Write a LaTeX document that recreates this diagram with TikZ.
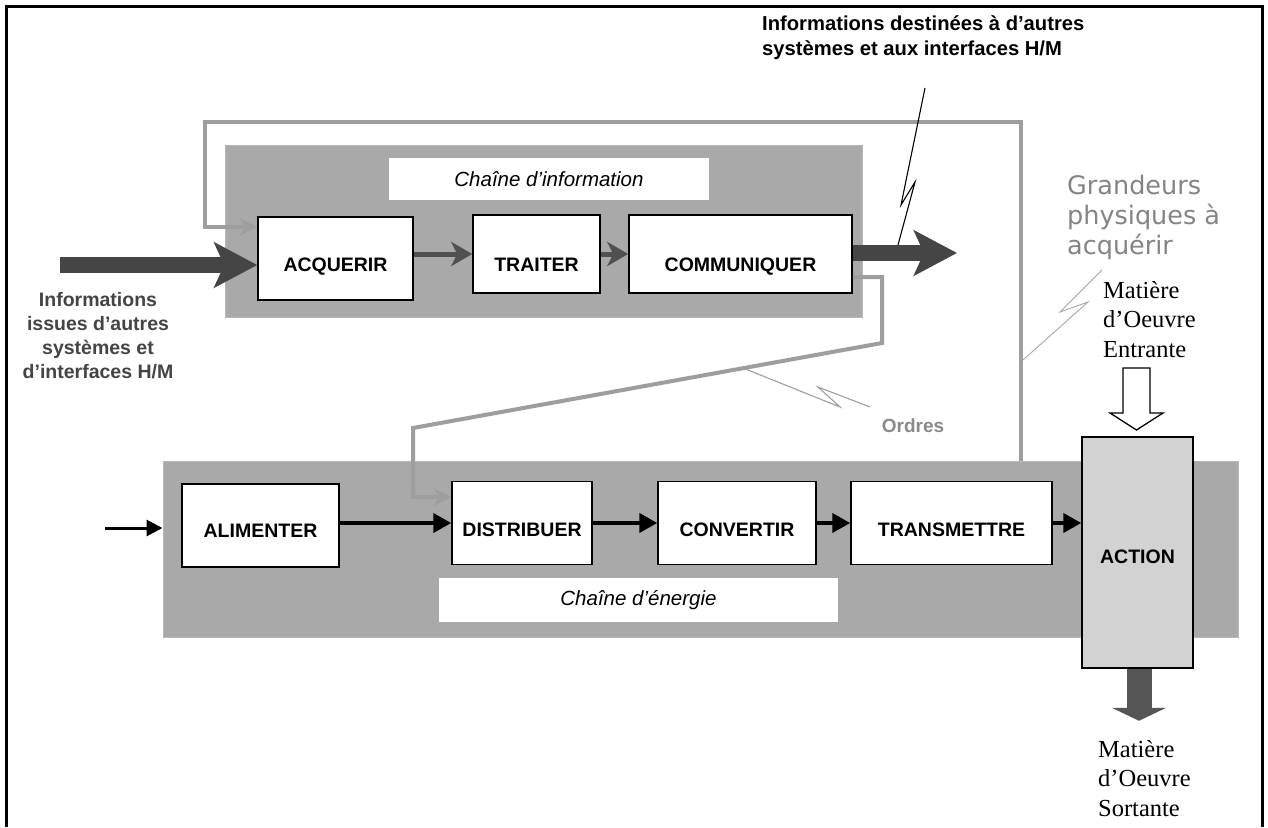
\documentclass[tikz,border=0pt]{standalone}
\usepackage{fontspec}
\setmainfont{Liberation Sans}
\newfontfamily\serifm{Liberation Serif}
\newfontfamily\dvs{DejaVu Sans}
\usetikzlibrary{arrows.meta}
\definecolor{panelgray}{HTML}{A9A9A9}
\definecolor{panelborder}{HTML}{B8B8B8}
\definecolor{arrowgray}{HTML}{505050}
\definecolor{biggray}{HTML}{454545}
\definecolor{linegray}{HTML}{9E9E9E}
\definecolor{tipgray}{HTML}{A8A8A8}
\definecolor{textgray}{HTML}{8A8A8A}
\definecolor{grgray}{HTML}{848484}
\definecolor{leftgray}{HTML}{444444}
\definecolor{actiongray}{HTML}{D2D2D2}
\definecolor{outgray}{HTML}{555555}
\newcommand\boxfont{\fontsize{19.5}{23}\selectfont\bfseries}
\newcommand\titlefont{\fontsize{20.5}{24}\selectfont\itshape}
\begin{document}
\begin{tikzpicture}[x=1pt,y=-1pt,
  panel/.style={fill=panelgray, draw=panelborder, line width=1pt, inner sep=0pt},
  blk/.style={draw=black, line width=1.5pt, fill=white, inner sep=0pt, font=\boxfont, text depth=0pt},
  titlebox/.style={fill=white, inner sep=0pt, font=\titlefont},
  darrow/.style={draw=arrowgray, line width=5pt, -{Stealth[length=21pt,width=24pt,inset=6pt]}, color=arrowgray},
  earrow/.style={draw=black, line width=4pt, -{Triangle[length=18pt,width=19pt]}},
  bigarrow/.style={draw=biggray, line width=16pt, -{Stealth[length=43pt,width=45pt,inset=10pt]}, color=biggray},
  gline/.style={draw=linegray, line width=4pt, line join=miter, -{Stealth[length=18pt,width=18pt,inset=6pt]}},
  bolt/.style={line width=1.1pt}
]
\useasboundingbox (0,0) rectangle (1268,827);
\fill[white] (0,0) rectangle (1268,827);
% frame
\draw[line width=3pt] (6,827) -- (6,6) -- (1262,6) -- (1262,827);

% panels
\node[panel, minimum width=1075pt, minimum height=176pt] (ene) at (700.5,549) {};
\node[panel, minimum width=637pt, minimum height=172pt] (inf) at (543.5,231) {};
\node[titlebox, minimum width=320pt, minimum height=42pt] (tinf) at (549,179) {Chaîne d’information};
\node[titlebox, minimum width=399pt, minimum height=44pt] (tene) at (638.5,600) {Chaîne d’énergie};

% blocks
\node[blk, text height=26pt, minimum width=155pt, minimum height=83pt] (acq) at (335.5,258.5) {ACQUERIR};
\node[blk, text height=34pt, minimum width=127pt, minimum height=78pt] (tra) at (536.5,254) {TRAITER};
\node[blk, text height=34pt, minimum width=223pt, minimum height=78pt] (com) at (740.5,254) {COMMUNIQUER};
\node[blk, text height=24pt, minimum width=157pt, minimum height=83pt] (ali) at (260.5,525.5) {ALIMENTER};
\node[blk, text height=27pt, minimum width=140pt, minimum height=83pt] (dis) at (522,523) {DISTRIBUER};
\node[blk, text height=26pt, minimum width=158pt, minimum height=83pt] (con) at (737,523) {CONVERTIR};
\node[blk, text height=26pt, minimum width=201pt, minimum height=83pt] (trm) at (951.5,523) {TRANSMETTRE};
\node[blk, text height=21pt, fill=actiongray, minimum width=111pt, minimum height=231pt] (act) at (1137.5,552.5) {ACTION};

% info chain arrows
\draw[darrow] (acq.east |- tra.west) -- (tra.west);
\draw[darrow] (tra.east) -- (com.west);

% energy chain arrows
\draw[earrow] (ali.east |- dis.west) -- (dis.west);
\draw[earrow] (dis.east) -- (con.west);
\draw[earrow] (con.east) -- (trm.west);
\draw[earrow] (trm.east) -- (trm.east -| act.west);
\coordinate (eS) at (105,528);
\draw[draw=black, line width=3pt, -{Triangle[length=16pt,width=16pt]}] (eS) -- (ene.west |- eS);

% big arrows
\coordinate (inS) at (60,265);
\draw[bigarrow] (inS) -- (acq.west |- inS);
\coordinate (outT) at (957,253);
\draw[bigarrow] (com.east |- outT) -- (outT);

% feedback (grandeurs physiques)
\coordinate (fbA) at (1021,122);
\coordinate (fbB) at (205,122);
\coordinate (fbC) at (0,227);
\draw[gline] (ene.north -| fbA) -- (fbA) -- (fbB) |- (acq.west |- fbC);

% ordres
\coordinate (ordA) at (882,277);
\coordinate (ordB) at (882,343);
\coordinate (ordC) at (413,428);
\coordinate (ordD) at (0,497);
\draw[gline] (com.east |- ordA) -- (ordA) -- (ordB) -- (ordC) |- (dis.west |- ordD);

% lightning bolts
\coordinate (b1a) at (925,88);
\coordinate (b1b) at (901,205);
\coordinate (b1c) at (915,182);
\coordinate (b1d) at (898,245);
\draw[bolt, draw=black] (b1a) -- (b1b) -- (b1c) -- (b1d);
\coordinate (b2a) at (743,368);
\coordinate (b2b) at (840,407);
\coordinate (b2c) at (818,387);
\coordinate (b2d) at (870,407);
\draw[bolt, draw=linegray] (b2a) -- (b2b) -- (b2c) -- (b2d);
\coordinate (b3a) at (1102,270);
\coordinate (b3b) at (1060,312);
\coordinate (b3c) at (1088,302);
\coordinate (b3d) at (1023,360);
\draw[bolt, draw=tipgray, line width=0.9pt] (b3a) -- (b3b) -- (b3c) -- (b3d);

% matiere d'oeuvre arrows
\draw[fill=white, line width=1.3pt, line join=miter] (1123,368) -- (1150,368) -- (1150,413) -- (1163,413) -- (1136.5,430) -- (1110,413) -- (1123,413) -- cycle;
\draw[draw=outgray, line width=25pt, -{Triangle[length=13pt,width=54pt]}, color=outgray] ([xshift=1.5pt]act.south) -- ++(0,52);

% texts
\node[anchor=north west, inner sep=0pt, align=left, font=\fontsize{20.2}{25}\selectfont\bfseries] (tout) at (762,15) {Informations destinées à d’autres\\systèmes et aux interfaces H/M};
\node[inner sep=0pt, align=center, text=leftgray, font=\fontsize{19.5}{24}\selectfont\bfseries] (tin) at (98,336) {Informations\\issues d’autres\\systèmes et\\d’interfaces H/M};
\node[anchor=north west, inner sep=0pt, align=left, text=grgray, font=\dvs\fontsize{25.5}{30}\selectfont] (tgr) at (1067,175) {Grandeurs\\physiques à\\acquérir};
\node[anchor=north west, inner sep=0pt, align=left, font=\serifm\fontsize{24.5}{29.5}\selectfont] (tme) at (1103,281) {Matière\\d’Oeuvre\\Entrante};
\node[anchor=north west, inner sep=0pt, align=left, font=\serifm\fontsize{24.5}{29.5}\selectfont] (tms) at (1098,740) {Matière\\d’Oeuvre\\Sortante};
\node[inner sep=0pt, text=textgray, font=\fontsize{19}{22}\selectfont\bfseries] (tord) at (913,426) {Ordres};
\end{tikzpicture}
\end{document}
